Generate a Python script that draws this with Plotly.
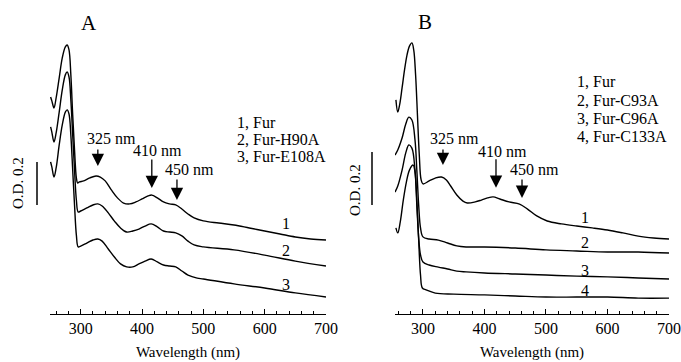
import plotly.graph_objects as go

# ---------------- data (absorbance, arbitrary offsets) ----------------
wl_A1 = [251, 253, 256.5, 260, 265, 270, 275, 278, 281, 284, 287, 290, 293, 295, 298, 305, 315, 325, 332, 340,
         350, 360, 370, 380, 390, 400, 410, 416, 425, 435, 445, 455, 465, 475, 485, 500, 525, 550, 575, 600,
         625, 650, 675, 700]
od_A1 = [1.009, 0.991, 0.958, 1.005, 1.098, 1.191, 1.242, 1.251, 1.228, 1.112, 0.926, 0.763, 0.633, 0.609,
         0.614, 0.619, 0.633, 0.642, 0.637, 0.619, 0.577, 0.540, 0.516, 0.512, 0.521, 0.535, 0.549, 0.553,
         0.540, 0.521, 0.512, 0.507, 0.488, 0.465, 0.447, 0.433, 0.423, 0.414, 0.400, 0.386, 0.372, 0.358,
         0.349, 0.344]

wl_A2 = [251, 253, 256.5, 260, 265, 270, 275, 278, 281, 284, 287, 290, 293, 296, 300, 310, 320, 328, 335, 345,
         355, 365, 375, 385, 395, 405, 415, 425, 435, 445, 455, 465, 475, 485, 500, 550, 600, 650, 700]
od_A2 = [0.870, 0.846, 0.800, 0.842, 0.939, 1.042, 1.112, 1.125, 1.102, 0.995, 0.832, 0.670, 0.530, 0.474,
         0.479, 0.493, 0.507, 0.512, 0.502, 0.470, 0.432, 0.400, 0.381, 0.386, 0.395, 0.409, 0.419, 0.405,
         0.386, 0.381, 0.377, 0.363, 0.339, 0.321, 0.312, 0.298, 0.274, 0.246, 0.223]

wl_A3 = [251, 253, 256.5, 260, 265, 270, 275, 278, 281, 284, 287, 290, 293, 296, 300, 310, 320, 328, 335, 345,
         355, 365, 375, 385, 395, 405, 415, 425, 435, 445, 455, 465, 475, 490, 500, 550, 600, 650, 700]
od_A3 = [0.707, 0.684, 0.637, 0.679, 0.786, 0.879, 0.939, 0.949, 0.930, 0.832, 0.670, 0.507, 0.367, 0.312,
         0.316, 0.330, 0.344, 0.349, 0.339, 0.302, 0.265, 0.233, 0.219, 0.219, 0.233, 0.246, 0.256, 0.242,
         0.228, 0.223, 0.219, 0.200, 0.181, 0.167, 0.163, 0.140, 0.121, 0.098, 0.079]

wl_B1 = [256, 259, 262, 266, 270, 274, 278, 282, 285, 288, 291, 294, 297, 300, 310, 320, 330, 338, 345, 355,
         365, 372, 385, 395, 405, 414, 425, 440, 457, 470, 485, 502, 525, 550, 575, 600, 625, 650, 675, 700]
od_B1 = [0.808, 0.762, 0.789, 0.853, 0.921, 0.977, 1.011, 1.023, 0.996, 0.902, 0.751, 0.600, 0.506, 0.491,
         0.502, 0.513, 0.517, 0.506, 0.483, 0.449, 0.426, 0.419, 0.423, 0.430, 0.438, 0.442, 0.434, 0.423,
         0.415, 0.396, 0.370, 0.351, 0.340, 0.332, 0.325, 0.317, 0.306, 0.294, 0.287, 0.283]

wl_B2 = [254.5, 259, 266, 272, 277, 282, 287, 290, 293, 296, 300, 310, 325, 340, 355, 370, 400, 450, 500, 550,
         600, 650, 700]
od_B2 = [0.600, 0.619, 0.664, 0.717, 0.743, 0.732, 0.657, 0.543, 0.411, 0.325, 0.291, 0.283, 0.279, 0.268,
         0.257, 0.253, 0.253, 0.249, 0.242, 0.238, 0.234, 0.234, 0.230]

wl_B3 = [254.5, 259, 266, 272, 277, 282, 287, 290, 293, 296, 300, 310, 325, 340, 355, 370, 400, 450, 500, 550,
         600, 650, 700]
od_B3 = [0.460, 0.483, 0.543, 0.608, 0.638, 0.626, 0.543, 0.411, 0.287, 0.223, 0.196, 0.185, 0.177, 0.170,
         0.162, 0.159, 0.155, 0.151, 0.147, 0.143, 0.140, 0.136, 0.132]

wl_B4 = [256, 259, 263, 268, 273, 278, 284, 287, 290, 293, 296, 299, 305, 320, 350, 400, 450, 500, 550, 600,
         650, 700]
od_B4 = [0.325, 0.306, 0.347, 0.430, 0.498, 0.543, 0.562, 0.536, 0.430, 0.279, 0.147, 0.098, 0.091, 0.079,
         0.075, 0.072, 0.068, 0.064, 0.064, 0.064, 0.060, 0.060]

legend_A = ["1, Fur", "2, Fur-H90A", "3, Fur-E108A"]
legend_B = ["1, Fur", "2, Fur-C93A", "3, Fur-C96A", "4, Fur-C133A"]
curve_labels_A = ["1", "2", "3"]
curve_labels_B = ["1", "2", "3", "4"]
label_od_A = [0.423, 0.293, 0.135]
label_od_B = [0.366, 0.268, 0.166, 0.087]
label_wl_A = 635
label_wl_B = 563

peak_names = ["325 nm", "410 nm", "450 nm"]
# arrow positions (wavelength, tip OD, arrow length px) and text positions
arrows_A = [(328, 0.688, 18), (416, 0.586, 30), (457, 0.530, 22)]
texts_A = [(351, 0.818), (426, 0.758), (477, 0.670)]
arrows_B = [(332.5, 0.562, 17), (418.7, 0.476, 30), (461, 0.438, 20)]
texts_B = [(352, 0.664), (430, 0.615), (480.5, 0.547)]

scale_bar = 0.2  # O.D.

W, H = 681, 362
FONT = "'Times New Roman', 'Liberation Serif', Times, serif"

fig = go.Figure()
line = dict(color="black", width=1.4)
for wl, od in [(wl_A1, od_A1), (wl_A2, od_A2), (wl_A3, od_A3)]:
    fig.add_trace(go.Scatter(x=wl, y=od, mode="lines", line=line, line_shape="spline",
                             xaxis="x", yaxis="y", showlegend=False, hoverinfo="skip"))
for wl, od in [(wl_B1, od_B1), (wl_B2, od_B2), (wl_B3, od_B3), (wl_B4, od_B4)]:
    fig.add_trace(go.Scatter(x=wl, y=od, mode="lines", line=line, line_shape="spline",
                             xaxis="x2", yaxis="y2", showlegend=False, hoverinfo="skip"))

ydom = [48 / H, 1]
xcommon = dict(showline=True, linecolor="black", linewidth=1.3, ticks="inside", ticklen=5, tickwidth=1,
               tickcolor="black", dtick=100, tick0=300, showgrid=False, zeroline=False,
               minor=dict(ticks="inside", ticklen=3, dtick=20, tickcolor="black", tickwidth=1, showgrid=False),
               tickfont=dict(family=FONT, size=16, color="black"),
               title=dict(text="Wavelength (nm)", font=dict(family=FONT, size=15, color="black"), standoff=10),
               automargin=False, fixedrange=True)
fig.update_layout(
    width=W, height=H, margin=dict(l=0, r=0, t=0, b=0),
    paper_bgcolor="white", plot_bgcolor="white",
    font=dict(family=FONT, color="black"),
    xaxis=dict(domain=[50 / W, 326 / W], range=[250, 700], anchor="y", **xcommon),
    xaxis2=dict(domain=[395 / W, 669 / W], range=[254.5, 700], anchor="y2", **xcommon),
    yaxis=dict(domain=ydom, range=[0, 1.4601], visible=False, anchor="x"),
    yaxis2=dict(domain=ydom, range=[0, 1.185], visible=False, anchor="x2"),
)

ann = []
shapes = []
for panel, arrows, texts, xr, yr in [("A", arrows_A, texts_A, "x", "y"), ("B", arrows_B, texts_B, "x2", "y2")]:
    for (ax_wl, tip, ln), (tx, ty), name in zip(arrows, texts, peak_names):
        ann.append(dict(x=ax_wl, y=tip, xref=xr, yref=yr, text="", showarrow=True, ax=0, ay=-ln,
                        arrowhead=2, arrowsize=1.9, arrowwidth=1.3, arrowcolor="black", standoff=0))
        ann.append(dict(x=tx, y=ty, xref=xr, yref=yr, text=name, showarrow=False,
                        xanchor="center", yanchor="middle",
                        font=dict(family=FONT, size=16, color="black")))

for lab, od in zip(curve_labels_A, label_od_A):
    ann.append(dict(x=label_wl_A, y=od, xref="x", yref="y", text=lab, showarrow=False,
                    xanchor="center", yanchor="middle",
                    font=dict(family=FONT, size=16, color="black")))
for lab, od in zip(curve_labels_B, label_od_B):
    ann.append(dict(x=label_wl_B, y=od, xref="x2", yref="y2", text=lab, showarrow=False,
                    xanchor="center", yanchor="middle",
                    font=dict(family=FONT, size=16, color="black")))

for i, t in enumerate(legend_A):
    ann.append(dict(x=235 / W, y=1 - (122 + 17.5 * i) / H, xref="paper", yref="paper", text=t,
                    showarrow=False, xanchor="left", yanchor="middle",
                    font=dict(family=FONT, size=16, color="black")))
for i, t in enumerate(legend_B):
    ann.append(dict(x=575 / W, y=1 - (82 + 18.3 * i) / H, xref="paper", yref="paper", text=t,
                    showarrow=False, xanchor="left", yanchor="middle",
                    font=dict(family=FONT, size=16, color="black")))

# panel letters
ann.append(dict(x=89 / W, y=1 - 23 / H, xref="paper", yref="paper", text="A", showarrow=False,
                xanchor="center", yanchor="middle", font=dict(family=FONT, size=21, color="black")))
ann.append(dict(x=425 / W, y=1 - 22 / H, xref="paper", yref="paper", text="B", showarrow=False,
                xanchor="center", yanchor="middle", font=dict(family=FONT, size=21, color="black")))

# O.D. scale bars
bar_base_A = 0.507
bar_base_B = 0.411
shapes.append(dict(type="line", xref="paper", yref="y", x0=37 / W, x1=37 / W, y0=bar_base_A,
                   y1=bar_base_A + scale_bar, line=dict(color="black", width=1.5)))
shapes.append(dict(type="line", xref="paper", yref="y2", x0=372 / W, x1=372 / W, y0=bar_base_B,
                   y1=bar_base_B + scale_bar, line=dict(color="black", width=1.5)))
ann.append(dict(x=18 / W, y=1 - 183 / H, xref="paper", yref="paper", text="O.D. 0.2", textangle=-90,
                showarrow=False, xanchor="center", yanchor="middle",
                font=dict(family=FONT, size=15, color="black")))
ann.append(dict(x=355 / W, y=1 - 190 / H, xref="paper", yref="paper", text="O.D. 0.2", textangle=-90,
                showarrow=False, xanchor="center", yanchor="middle",
                font=dict(family=FONT, size=15, color="black")))

fig.update_layout(annotations=ann, shapes=shapes)
fig.write_html("out.html", config={"displayModeBar": False})
